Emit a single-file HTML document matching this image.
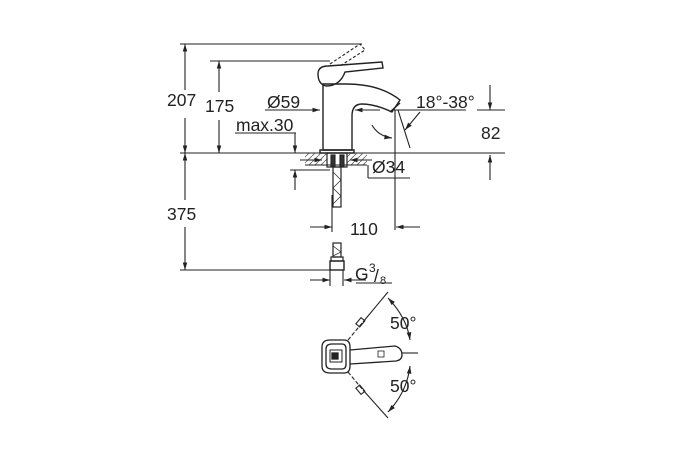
<!DOCTYPE html>
<html><head><style>body{margin:0;background:#fff}svg{display:block}text{font-family:"Liberation Sans",sans-serif;fill:#222}</style></head><body>
<svg width="675" height="450" viewBox="0 0 675 450" xmlns="http://www.w3.org/2000/svg">
<defs><marker id="a" viewBox="0 0 10 10" refX="10" refY="5" markerWidth="7" markerHeight="7" orient="auto-start-reverse"><path d="M0,2 L10,5 L0,8z" fill="#222"/></marker>
<pattern id="h" width="6" height="6" patternUnits="userSpaceOnUse"><path d="M0,6 L6,0" stroke="#444" stroke-width="0.7"/></pattern></defs>
<g stroke="#222" stroke-width="1.1" fill="none">
<line x1="180" y1="44" x2="362" y2="44"/>
<line x1="210" y1="61" x2="330" y2="61"/>
<line x1="180" y1="153" x2="505" y2="153"/>
<line x1="185" y1="44" x2="185" y2="90" marker-start="url(#a)"/>
<line x1="185" y1="118" x2="185" y2="153" marker-end="url(#a)"/>
<line x1="219" y1="61" x2="219" y2="92" marker-start="url(#a)"/>
<line x1="219" y1="120" x2="219" y2="153" marker-end="url(#a)"/>
<line x1="185" y1="153" x2="185" y2="200" marker-start="url(#a)"/>
<line x1="185" y1="227" x2="185" y2="270" marker-end="url(#a)"/>
<line x1="180" y1="270" x2="332" y2="270"/>
<line x1="265" y1="110" x2="320" y2="110" marker-end="url(#a)"/>
<line x1="380" y1="110" x2="355" y2="110" marker-end="url(#a)"/>
<line x1="235" y1="133" x2="296" y2="133"/>
<line x1="295" y1="133" x2="295" y2="153" marker-end="url(#a)"/>
<line x1="295" y1="190" x2="295" y2="170" marker-end="url(#a)"/>
<line x1="290" y1="170" x2="330" y2="170"/>
<line x1="394" y1="110" x2="466" y2="110"/>
<line x1="477" y1="110" x2="505" y2="110"/>
<line x1="490" y1="85" x2="490" y2="110" marker-end="url(#a)"/>
<line x1="490" y1="180" x2="490" y2="155" marker-end="url(#a)"/>
<line x1="395" y1="110" x2="395" y2="230"/>
<line x1="332" y1="195" x2="332" y2="232"/>
<line x1="310" y1="227" x2="332" y2="227" marker-end="url(#a)"/>
<line x1="420" y1="227" x2="396" y2="227" marker-end="url(#a)"/>
<line x1="310" y1="280" x2="330" y2="280" marker-end="url(#a)"/>
<line x1="366" y1="280" x2="344" y2="280" marker-end="url(#a)"/>
<line x1="330" y1="270" x2="330" y2="286"/><line x1="343" y1="270" x2="343" y2="286"/>
<line x1="356" y1="283" x2="392" y2="283"/>
<line x1="368" y1="165" x2="368" y2="178"/><line x1="368" y1="178" x2="410" y2="178"/>
<line x1="398" y1="110" x2="410" y2="148"/>
<path d="M420,112 L405,130" marker-end="url(#a)"/>
<path d="M372,125 Q378,136 392,138" marker-end="url(#a)"/>
<g stroke="#222" stroke-width="1.4">
<path d="M323,150 L323,84 L346,84 Q380,84 400,100 L392,112 Q375,104 362,104 Q352,104 352,116 L352,150 Z"/>
<line x1="390" y1="112" x2="400" y2="103"/>
<path d="M320,150 L354,150 L354,153 L320,153Z"/>
<path d="M318,74 Q318,66 328,66 L382,62 L383,68 L345,72 Q340,86 326,86 Q318,84 318,74Z"/>
</g>
<path d="M330,64 L360,44 L365,50 L340,66" stroke-dasharray="3,2"/>
<rect x="305" y="153" width="22" height="12" fill="url(#h)" stroke="none"/>
<rect x="347" y="153" width="20" height="12" fill="url(#h)" stroke="none"/>
<line x1="305" y1="165" x2="367" y2="165"/>
<line x1="300" y1="160" x2="322" y2="160" marker-end="url(#a)"/>
<line x1="372" y1="160" x2="350" y2="160" marker-end="url(#a)"/>
<rect x="327" y="153" width="20" height="14" stroke-width="1.2"/>
<rect x="331" y="155" width="4" height="12" fill="#333"/><rect x="340" y="155" width="4" height="12" fill="#333"/>
<rect x="333" y="167" width="8" height="40" stroke-width="1.2"/>
<path d="M333,172 L341,180 L333,188 L341,196 L333,204" stroke-width="0.7"/>
<rect x="333" y="243" width="8" height="14" stroke-width="1.2"/>
<path d="M333,246 L341,252 L333,256" stroke-width="0.7"/>
<rect x="331" y="257" width="12" height="4" stroke-width="1.2"/>
<rect x="330" y="261" width="14" height="9" stroke-width="1.4"/>
<g stroke="#222" stroke-width="1.3">
<path d="M322,347 Q322,340 330,340 L344,340 Q350,340 350,347 L350,366 Q350,373 344,373 L330,373 Q322,373 322,366Z"/>
<path d="M326,349 Q326,344 332,344 L342,344 Q346,344 346,349 L346,364 Q346,369 342,369 L332,369 Q326,369 326,364Z"/>
<rect x="330" y="350" width="12" height="12" stroke-width="1"/>
<rect x="332" y="353" width="6" height="6" fill="#222"/>
<path d="M350,350 L395,346 Q402,348 402,355 Q402,360 396,361 L350,364"/>
<rect x="378" y="351" width="6" height="6" stroke-width="0.8"/>
</g>
<path d="M348,340 L363,322" stroke-dasharray="4,2"/>
<line x1="363" y1="322" x2="388" y2="292"/>
<path d="M348,372 L363,390" stroke-dasharray="4,2"/>
<line x1="363" y1="390" x2="388" y2="418"/>
<rect x="358" y="318" width="5" height="8" transform="rotate(40 360 322)"/>
<rect x="358" y="386" width="5" height="8" transform="rotate(-40 360 390)"/>
<line x1="402" y1="353" x2="418" y2="353"/>
<path d="M388,298 Q407,318 410,340" marker-start="url(#a)" marker-end="url(#a)"/>
<path d="M410,366 Q407,392 388,412" marker-start="url(#a)" marker-end="url(#a)"/>
</g>
<g font-size="17.5">
<text x="167" y="106">207</text>
<text x="205" y="112">175</text>
<text x="267" y="108">Ø59</text>
<text x="236" y="131">max.30</text>
<text x="416" y="108">18°-38°</text>
<text x="481" y="139">82</text>
<text x="372" y="173">Ø34</text>
<text x="167" y="220">375</text>
<text x="350" y="235">110</text>
<text x="355" y="280">G</text>
<text x="369" y="272" font-size="12">3</text>
<text x="374" y="282">/</text>
<text x="380" y="284" font-size="11">8</text>
<text x="390" y="329">50°</text>
<text x="390" y="392">50°</text>
</g>
</svg>
</body></html>
